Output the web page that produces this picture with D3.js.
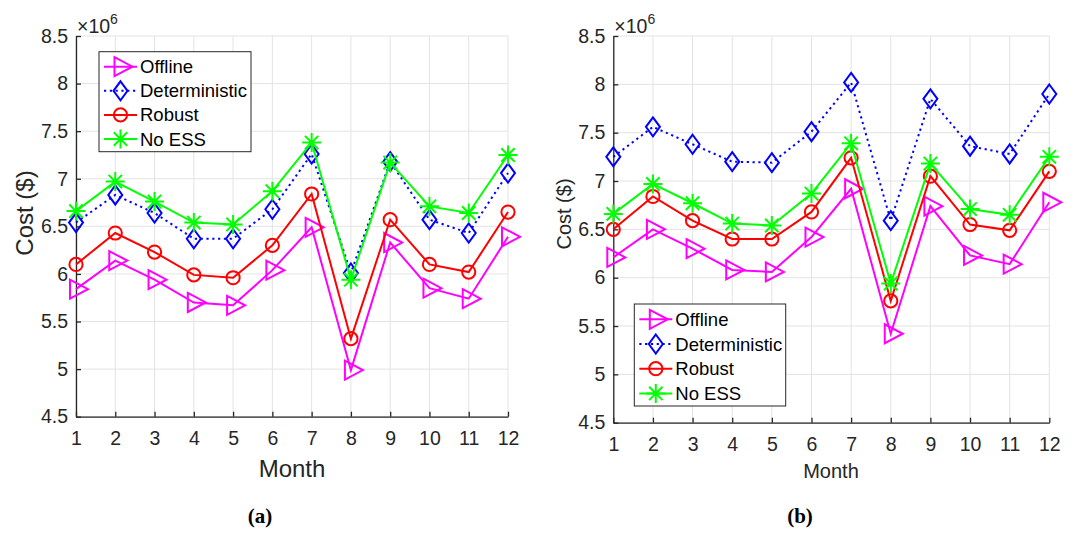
<!DOCTYPE html>
<html>
<head>
<meta charset="utf-8">
<script src="https://cdn.jsdelivr.net/npm/d3@7"></script>
<style>
  html, body { margin: 0; padding: 0; background: #fff; }
  svg { display: block; }
  text { font-family: "Liberation Sans", Arial, sans-serif; }
</style>
</head>
<body>
<svg id="chart" width="1076" height="534"></svg>
<script>
// Monthly cost (in units of 10^6 $) for each strategy
const months = [1, 2, 3, 4, 5, 6, 7, 8, 9, 10, 11, 12];
const yTicks = [4.5, 5, 5.5, 6, 6.5, 7, 7.5, 8, 8.5];
const seriesNames = ["Offline", "Deterministic", "Robust", "No ESS"];

// Panel (a)
const offlineA       = [5.84, 6.14, 5.94, 5.70, 5.67, 6.04, 6.49, 4.99, 6.33, 5.85, 5.74, 6.39];
const deterministicA = [6.54, 6.83, 6.64, 6.37, 6.37, 6.68, 7.26, 6.01, 7.18, 6.57, 6.43, 7.06];
const robustA        = [6.10, 6.43, 6.23, 5.99, 5.96, 6.30, 6.84, 5.32, 6.57, 6.10, 6.02, 6.65];
const noEssA         = [6.66, 6.97, 6.76, 6.54, 6.52, 6.87, 7.38, 5.94, 7.17, 6.71, 6.64, 7.25];

// Panel (b)
const offlineB       = [6.21, 6.50, 6.30, 6.08, 6.06, 6.42, 6.92, 5.42, 6.74, 6.23, 6.14, 6.78];
const deterministicB = [7.25, 7.56, 7.38, 7.20, 7.19, 7.51, 8.02, 6.59, 7.85, 7.36, 7.28, 7.90];
const robustB        = [6.50, 6.84, 6.59, 6.40, 6.40, 6.68, 7.24, 5.76, 7.05, 6.55, 6.49, 7.10];
const noEssB         = [6.66, 6.97, 6.77, 6.56, 6.54, 6.87, 7.39, 5.94, 7.18, 6.71, 6.65, 7.25];

// Line / marker styles per series
const styles = [
  { color: "#ff00ff", dash: null,      marker: "triangle" },
  { color: "#0000ff", dash: "2.2,3.6", marker: "diamond" },
  { color: "#ff0000", dash: null,      marker: "circle" },
  { color: "#00ff00", dash: null,      marker: "asterisk" }
];

const markerPaths = {
  triangle: "M-6,-9.5L-6,9.5L12,0Z",
  diamond: "M0,-9.5L7,0L0,9.5L-7,0Z",
  circle: d3.arc()({ innerRadius: 0, outerRadius: 6.6, startAngle: 0, endAngle: 2 * Math.PI }),
  asterisk: "M-9.5,0L9.5,0M0,-9.5L0,9.5M-6.7,-6.7L6.7,6.7M-6.7,6.7L6.7,-6.7"
};

const svg = d3.select("#chart");
const inkColor = "#262626";
const gridColor = "#e3e3e3";

function drawMarker(g, type, color) {
  g.append("path")
    .attr("d", markerPaths[type])
    .attr("fill", "none")
    .attr("stroke", color)
    .attr("stroke-width", 2);
}

function drawPanel(p) {
  const x = d3.scaleLinear().domain([1, 12]).range([p.left, p.right]);
  const y = d3.scaleLinear().domain([4.5, 8.5]).range([p.bottom, p.top]);
  const g = svg.append("g");

  // grid
  const grid = g.append("g").attr("stroke", gridColor).attr("stroke-width", 1);
  grid.selectAll("line.gx").data(months).join("line")
    .attr("x1", d => x(d)).attr("x2", d => x(d))
    .attr("y1", p.top).attr("y2", p.bottom);
  grid.selectAll("line.gy").data(yTicks).join("line")
    .attr("x1", p.left).attr("x2", p.right)
    .attr("y1", d => y(d)).attr("y2", d => y(d));

  // axes with inward ticks
  const xAxis = d3.axisBottom(x).tickValues(months).tickFormat(d3.format("d"))
    .tickSizeInner(-5).tickSizeOuter(0).tickPadding(14);
  const yAxis = d3.axisLeft(y).tickValues(yTicks).tickFormat(d => String(d))
    .tickSizeInner(-5).tickSizeOuter(0).tickPadding(8);

  const gx = g.append("g").attr("transform", `translate(0,${p.bottom})`).call(xAxis);
  const gy = g.append("g").attr("transform", `translate(${p.left},0)`).call(yAxis);
  [gx, gy].forEach(a => {
    a.select(".domain").attr("stroke", inkColor).attr("stroke-width", 1.3);
    a.selectAll(".tick line").attr("stroke", inkColor).attr("stroke-width", 1.3);
    a.selectAll(".tick text").attr("fill", inkColor)
      .style("font-size", "19.5px").style("font-family", "Liberation Sans, Arial, sans-serif");
  });

  // exponent label
  const ex = g.append("text").attr("x", p.left + 1).attr("y", 32.5)
    .attr("fill", inkColor).style("font-size", "19.5px");
  ex.append("tspan").text("\u00d710");
  ex.append("tspan").attr("dy", -9).style("font-size", "14px").text("6");

  // axis titles
  g.append("text")
    .attr("transform", `translate(${p.ylabelX},${p.ylabelY}) rotate(-90)`)
    .attr("text-anchor", "middle").attr("fill", inkColor)
    .style("font-size", p.labelSize + "px").text("Cost ($)");
  g.append("text")
    .attr("x", p.xlabelX).attr("y", p.xlabelY)
    .attr("text-anchor", "middle").attr("fill", inkColor)
    .style("font-size", p.labelSize + "px").text("Month");

  // series
  const line = d3.line().x((d, i) => x(months[i])).y(d => y(d));
  p.series.forEach((vals, si) => {
    const st = styles[si];
    const sg = g.append("g");
    sg.append("path").attr("d", line(vals))
      .attr("fill", "none").attr("stroke", st.color).attr("stroke-width", 2)
      .attr("stroke-dasharray", st.dash);
    vals.forEach((v, i) => {
      const mg = sg.append("g").attr("transform", `translate(${x(months[i])},${y(v)})`);
      drawMarker(mg, st.marker, st.color);
    });
  });

  // legend
  const lg = g.append("g").attr("transform", `translate(${p.legX},${p.legY})`);
  lg.append("rect").attr("width", p.legW).attr("height", p.legH)
    .attr("fill", "#fff").attr("stroke", inkColor).attr("stroke-width", 1);
  seriesNames.forEach((name, i) => {
    const st = styles[i];
    const cy = p.legRow0 + i * p.legStep;
    lg.append("line").attr("x1", 5).attr("x2", 38).attr("y1", cy).attr("y2", cy)
      .attr("stroke", st.color).attr("stroke-width", 2).attr("stroke-dasharray", st.dash);
    const mg = lg.append("g").attr("transform", `translate(21.5,${cy})`);
    drawMarker(mg, st.marker, st.color);
    lg.append("text").attr("x", 41).attr("y", cy + 6.6)
      .attr("fill", "#000").style("font-size", "18.5px").text(name);
  });

  // caption
  svg.append("text").attr("x", p.capX).attr("y", 523)
    .attr("text-anchor", "middle").attr("fill", "#000")
    .style("font-family", "Liberation Serif, Times New Roman, serif")
    .style("font-weight", "bold").style("font-size", "21px")
    .text(p.caption);
}

drawPanel({
  left: 76, right: 508, top: 36, bottom: 416.7,
  series: [offlineA, deterministicA, robustA, noEssA],
  ylabelX: 33, ylabelY: 213, xlabelX: 292, xlabelY: 477, labelSize: 24,
  legX: 99, legY: 51.7, legW: 152, legH: 100, legRow0: 15, legStep: 24.1,
  capX: 260, caption: "(a)"
});

drawPanel({
  left: 613.3, right: 1049.3, top: 36, bottom: 422.7,
  series: [offlineB, deterministicB, robustB, noEssB],
  ylabelX: 571, ylabelY: 214, xlabelX: 831, xlabelY: 478, labelSize: 20,
  legX: 634.3, legY: 304, legW: 151.4, legH: 102, legRow0: 15.3, legStep: 24.7,
  capX: 800, caption: "(b)"
});
</script>
</body>
</html>
